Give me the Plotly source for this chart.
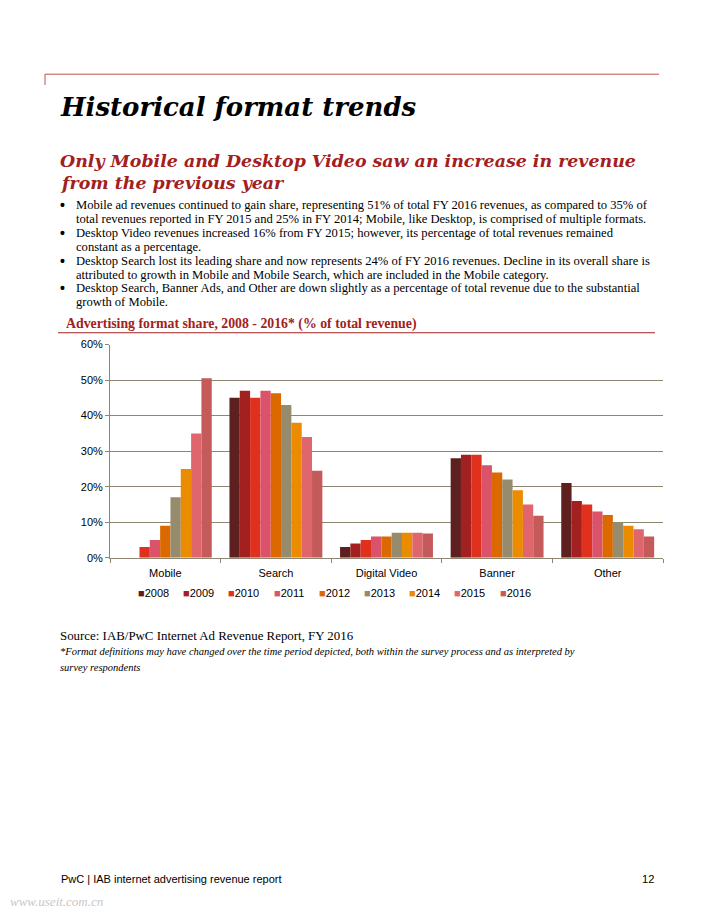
import plotly.graph_objects as go

W, H = 698, 908  # figure size; page body adds an 8px margin
OFF = 8

categories = ["Mobile", "Search", "Digital Video", "Banner", "Other"]
years = ["2008", "2009", "2010", "2011", "2012", "2013", "2014", "2015", "2016"]
# share (% of total revenue), one list per year across categories
v2008 = [0, 45, 3, 28, 21]
v2009 = [0, 47, 4, 29, 16]
v2010 = [3, 45, 5, 29, 15]
v2011 = [5, 47, 6, 26, 13]
v2012 = [9, 46.3, 6, 24, 12]
v2013 = [17, 43, 7, 22, 10]
v2014 = [25, 38, 7, 19, 9]
v2015 = [35, 34, 7, 15, 8]
v2016 = [50.5, 24.5, 6.8, 11.8, 6]
values = [v2008, v2009, v2010, v2011, v2012, v2013, v2014, v2015, v2016]
colors = ["#5e1f1f", "#a32020", "#e0301e", "#db536a", "#dc6900",
          "#968c6d", "#eb8c00", "#e0666e", "#c55a5a"]
y_ticks = [0, 10, 20, 30, 40, 50, 60]
y_tick_labels = ["0%", "10%", "20%", "30%", "40%", "50%", "60%"]

title = "Historical format trends"
subtitle = ["Only Mobile and Desktop Video saw an increase in revenue",
            "from the previous year"]
bullets = [
    ["Mobile ad revenues continued to gain share, representing 51% of total FY 2016 revenues, as compared to 35% of",
     "total revenues reported in FY 2015 and 25% in FY 2014; Mobile, like Desktop, is comprised of multiple formats."],
    ["Desktop Video revenues increased 16% from FY 2015; however, its percentage of total revenues remained",
     "constant as a percentage."],
    ["Desktop Search lost its leading share and now represents 24% of FY 2016 revenues. Decline in its overall share is",
     "attributed to growth in Mobile and Mobile Search, which are included in the Mobile category."],
    ["Desktop Search, Banner Ads, and Other are down slightly as a percentage of total revenue due to the substantial",
     "growth of Mobile."],
]
chart_title = "Advertising format share, 2008 - 2016* (% of total revenue)"
source = "Source: IAB/PwC Internet Ad Revenue Report, FY 2016"
footnote = ["*Format definitions may have changed over the time period depicted, both within the survey process and as interpreted by",
            "survey respondents"]
footer_left = "PwC | IAB internet advertising revenue report"
footer_right = "12"
watermark = "www.useit.com.cn"

SERIF = "Liberation Serif, Times New Roman, serif"
HEAD = "DejaVu Serif, Georgia, serif"
SANS = "Liberation Sans, Arial, sans-serif"
RED = "#a32020"


def px(x):
    return (x - OFF) / W


def py(y):
    return 1 - (y - OFF) / H


fig = go.Figure()
for yr, vals, col in zip(years, values, colors):
    fig.add_trace(go.Bar(name=yr, x=categories, y=vals, marker=dict(color=col, line=dict(width=0)),
                         showlegend=False))

annotations = []


def txt(x, y, s, size, color="#000", font=SERIF, xanchor="left", yanchor="middle"):
    annotations.append(dict(x=px(x), y=py(y), xref="paper", yref="paper", text=s,
                            showarrow=False, xanchor=xanchor, yanchor=yanchor,
                            font=dict(family=font, size=size, color=color)))


txt(58, 102, "<b><i>" + title + "</i></b>", 26, "#000", HEAD)
txt(58, 157, "<b><i>" + subtitle[0] + "</i></b>", 17.4, RED, HEAD)
txt(58, 179, "<b><i>" + subtitle[1] + "</i></b>", 17.4, RED, HEAD)

yline = 202
for b in bullets:
    txt(58, yline, "<b>•</b>", 14, "#000", SANS)
    for ln in b:
        txt(74, yline, ln, 12.6)
        yline += 14

txt(64, 322, "<b>" + chart_title + "</b>", 13.8, RED)

# manual legend
lx0 = 136
step = 45.2
for i, (yr, col) in enumerate(zip(years, colors)):
    txt(lx0 + i * step, 595, '<span style="color:%s">■</span>%s' % (col, yr), 11, "#000", SANS)

txt(58, 638, source, 12.9)
txt(58, 654, "<i>" + footnote[0] + "</i>", 10.5)
txt(58, 670, "<i>" + footnote[1] + "</i>", 10.5)

txt(59, 885, footer_left, 11, "#000", SANS)
txt(656, 885, footer_right, 11.2, "#000", SANS, xanchor="right")
txt(8, 907, "<i>" + watermark + "</i>", 13, "#c8c8c8", SERIF)

shapes = [
    dict(type="line", xref="paper", yref="paper", x0=px(45), x1=px(659), y0=py(69), y1=py(69),
         line=dict(color="#c0504d", width=1)),
    dict(type="line", xref="paper", yref="paper", x0=px(45), x1=px(45), y0=py(69), y1=py(80),
         line=dict(color="#c0504d", width=1)),
    dict(type="line", xref="paper", yref="paper", x0=px(58), x1=px(655), y0=py(331), y1=py(331),
         line=dict(color=RED, width=1.2)),
]

fig.update_layout(
    width=W, height=H,
    margin=dict(l=0, r=0, t=0, b=0),
    paper_bgcolor="white", plot_bgcolor="white",
    barmode="group", bargap=0.16, bargroupgap=0,
    showlegend=False,
    annotations=annotations,
    shapes=shapes,
    xaxis=dict(domain=[px(110), px(663)], showline=True, linecolor="#8c8672", linewidth=1,
               ticks="outside", tickson="boundaries", ticklen=4, tickcolor="#8c8672",
               ticklabelstandoff=5,
               tickfont=dict(family=SANS, size=11, color="#000"), showgrid=False),
    yaxis=dict(domain=[py(559), py(343)], range=[0, 60], tickvals=y_ticks, ticktext=y_tick_labels,
               showline=True, linecolor="#8c8672", linewidth=1, ticks="outside", ticklen=4,
               tickcolor="#8c8672", gridcolor="#8c8672", gridwidth=1, zeroline=False,
               tickfont=dict(family=SANS, size=11, color="#000")),
)

fig.write_html("out.html")
